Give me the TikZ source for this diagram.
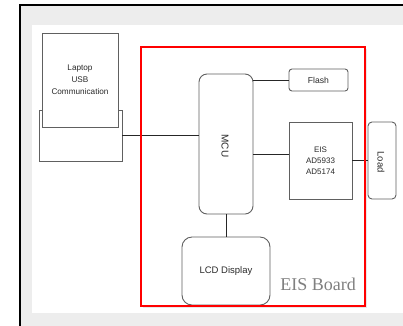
\documentclass[tikz,border=0pt]{standalone}
\usepackage{fontspec}
\setmainfont{Liberation Serif}
\setsansfont{Liberation Sans}
\usetikzlibrary{shadows}
\definecolor{bggray}{HTML}{EDEDED}
\definecolor{boxline}{HTML}{606060}
\definecolor{txt}{HTML}{2A2A2A}
\definecolor{boardtxt}{HTML}{808080}
\begin{document}
\begin{tikzpicture}[x=1pt,y=-1pt,
  blk/.style={draw=boxline, line width=0.9pt, fill=white, inner sep=0pt,
    font=\sffamily\fontsize{8}{11}\selectfont, text=txt, align=center},
  rblk/.style={blk, rounded corners=#1},
  conn/.style={draw=black!85, line width=0.9pt}]
\useasboundingbox (0,0) rectangle (403,325);
\clip (0,0) rectangle (403,325);
\fill[white] (0,0) rectangle (403,325);
\draw[black, line width=2pt, fill=bggray] (20,5) rectangle (420,340);
\fill[white] (32,25) rectangle (420,313);
% EIS board frame (fill + shadow)
\fill[white, drop shadow={opacity=0.18, shadow xshift=1.5pt, shadow yshift=-2pt}] (141,47) rectangle (365,306);
% laptop
\node[blk, minimum width=83pt, minimum height=51pt] (base) at (80.5,135.5) {};
\node[blk, minimum width=76pt, minimum height=94pt, font=\sffamily\fontsize{8.2}{12}\selectfont] (laptop) at (80,80) {Laptop\\USB\\Communication};
% blocks
\node[rblk=8pt, minimum width=54pt, minimum height=140pt] (mcu) at (226,144) {};
\node[text=txt, font=\sffamily\fontsize{10}{12}\selectfont, rotate=-90] (mcut) at (225,146) {MCU};
\node[rblk=3pt, minimum width=59pt, minimum height=22pt, font=\sffamily\fontsize{8.6}{10}\selectfont] (flash) at (318.5,80) {Flash};
\node[blk, minimum width=63pt, minimum height=77pt] (eis) at (320.5,160.5) {EIS\\AD5933\\AD5174};
\node[rblk=4pt, minimum width=28pt, minimum height=77pt] (load) at (382,160.5) {};
\node[text=txt, font=\sffamily\fontsize{9.5}{11}\selectfont, rotate=-90] (loadt) at (381,162) {Load};
\node[rblk=10pt, minimum width=88pt, minimum height=68pt, font=\sffamily\fontsize{9.5}{11}\selectfont] (lcd) at (226,271) {LCD Display};
% connectors
\draw[conn] (base.east) -- (base.east -| mcu.west);
\draw[conn] (flash.west -| mcu.east) -- (flash.west);
\draw[conn] ([yshift=6.5pt]eis.west -| mcu.east) -- ([yshift=6.5pt]eis.west);
\draw[conn] (eis.east) -- (load.west);
\draw[conn] (mcu.south) -- (lcd.north);
% board border on top
\draw[red, line width=1.6pt] (141,47) rectangle (365,306);
\node[text=boardtxt, font=\fontsize{18}{20}\selectfont, anchor=base] (board) at (318,290) {EIS Board};
\end{tikzpicture}
\end{document}
